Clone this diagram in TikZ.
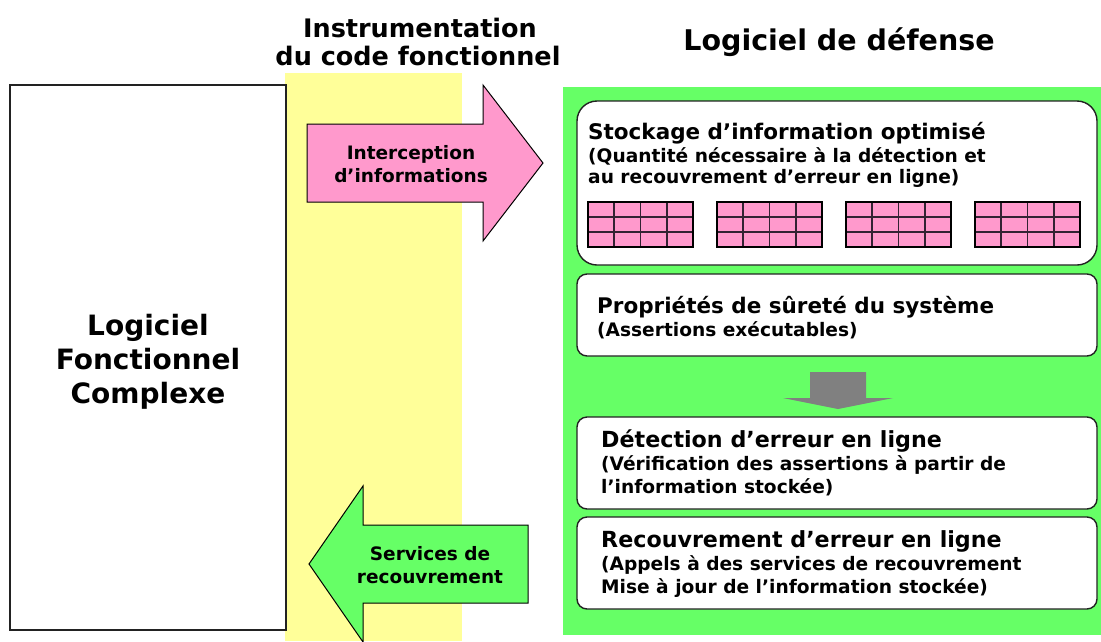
\documentclass[tikz,border=0pt]{standalone}
\usepackage{fontspec}
\setmainfont{DejaVu Sans}
\definecolor{bandyellow}{HTML}{FFFF99}
\definecolor{zonegreen}{HTML}{66FF66}
\definecolor{cellpink}{HTML}{FF99CC}
\definecolor{arrowgray}{HTML}{808080}
\definecolor{edgedark}{HTML}{222222}
\definecolor{gridline}{HTML}{332233}
\begin{document}
\begin{tikzpicture}[x=1pt,y=-1pt,
  rbox/.style={fill=white, draw=edgedark, line width=1.4pt, rounded corners=10pt,
    inner sep=0pt, outer sep=0pt},
  ttl/.style={anchor=base west, inner sep=0pt, font=\bfseries\fontsize{21.5}{24}\selectfont},
  ttlb/.style={anchor=base west, inner sep=0pt, font=\bfseries\fontsize{22.2}{24}\selectfont},
  subl/.style={anchor=base west, inner sep=0pt, font=\bfseries\fontsize{18.6}{20}\selectfont},
  head/.style={anchor=base, inner sep=0pt},
  arrtxt/.style={anchor=base, inner sep=0pt, font=\bfseries\fontsize{18.5}{22}\selectfont},
  bigarrow/.style={draw=black, line width=1pt, line join=miter},
  celltab/.style={fill=cellpink},
]
\useasboundingbox (0,0) rectangle (1101,641);
\fill[white] (0,0) rectangle (1101,641);

% background zones
\fill[bandyellow] (285,73) rectangle (462,641);
\fill[zonegreen] (563,87) rectangle (1101,635);

% headings
\node[head, font=\bfseries\fontsize{25.5}{28}\selectfont] (h1) at (420,37) {Instrumentation};
\node[head, font=\bfseries\fontsize{25.5}{28}\selectfont] (h2) at (418,65) {du code fonctionnel};
\node[head, font=\bfseries\fontsize{28.5}{32}\selectfont] (h3) at (839,50) {Logiciel de défense};

% left box
\node[draw=edgedark, fill=white, line width=1.3pt, minimum width=276pt, minimum height=545pt,
  inner sep=0pt, outer sep=0pt] (lfc) at (148,357.5) {};
\node[align=center, font=\bfseries\fontsize{28}{34}\selectfont] (lfctext) at (148,362)
  {Logiciel\\Fonctionnel\\Complexe};

% pink arrow
\draw[bigarrow, fill=cellpink] (307,124) -- (483,124) -- (483,85) -- (543,163)
  -- (483,241) -- (483,202) -- (307,202) -- cycle;
\node[arrtxt] (pa1) at (411,159) {Interception};
\node[arrtxt] (pa2) at (411,182) {d’informations};

% green arrow
\draw[bigarrow, fill=zonegreen] (528,525) -- (363,525) -- (363,486) -- (309,564)
  -- (363,642) -- (363,603) -- (528,603) -- cycle;
\node[arrtxt] (ga1) at (430,560) {Services de};
\node[arrtxt] (ga2) at (430,583) {recouvrement};

% box 1
\node[rbox, rounded corners=20pt, minimum width=520pt, minimum height=164pt] (b1) at (837,183) {};
\node[ttl] (b1t) at (588,139) {Stockage d’information optimisé};
\node[subl] (b1s1) at (588,162) {(Quantité nécessaire à la détection et};
\node[subl] (b1s2) at (588,183) {au recouvrement d’erreur en ligne)};
\foreach \gx in {588,717,846,975} {
  \fill[celltab] (\gx,202) rectangle (\gx+105,247);
  \foreach \k in {1,2,3} \draw[gridline, line width=1.7pt] (\gx+\k*26.25,202) -- (\gx+\k*26.25,247);
  \foreach \k in {1,2} \draw[gridline, line width=1.7pt] (\gx,202+\k*15) -- (\gx+105,202+\k*15);
  \draw[black, line width=2.6pt] (\gx,202) rectangle (\gx+105,247);
}

% box 2
\node[rbox, minimum width=520pt, minimum height=82pt] (b2) at (837,315) {};
\node[ttl] (b2t) at (597,313) {Propriétés de sûreté du système};
\node[subl] (b2s1) at (597,336) {(Assertions exécutables)};

% gray arrow
\fill[arrowgray] (810,372) -- (866,372) -- (866,398) -- (893,398) -- (838,409)
  -- (783,398) -- (810,398) -- cycle;

% box 3
\node[rbox, minimum width=520pt, minimum height=92pt] (b3) at (837,463) {};
\node[ttlb] (b3t) at (601,447) {Détection d’erreur en ligne};
\node[subl] (b3s1) at (601,470) {(Vérification des assertions à partir de};
\node[subl] (b3s2) at (601,493) {l’information stockée)};

% box 4
\node[rbox, minimum width=520pt, minimum height=92pt] (b4) at (837,563) {};
\node[ttlb] (b4t) at (601,547) {Recouvrement d’erreur en ligne};
\node[subl] (b4s1) at (601,570) {(Appels à des services de recouvrement};
\node[subl] (b4s2) at (601,593) {Mise à jour de l’information stockée)};
\end{tikzpicture}
\end{document}
